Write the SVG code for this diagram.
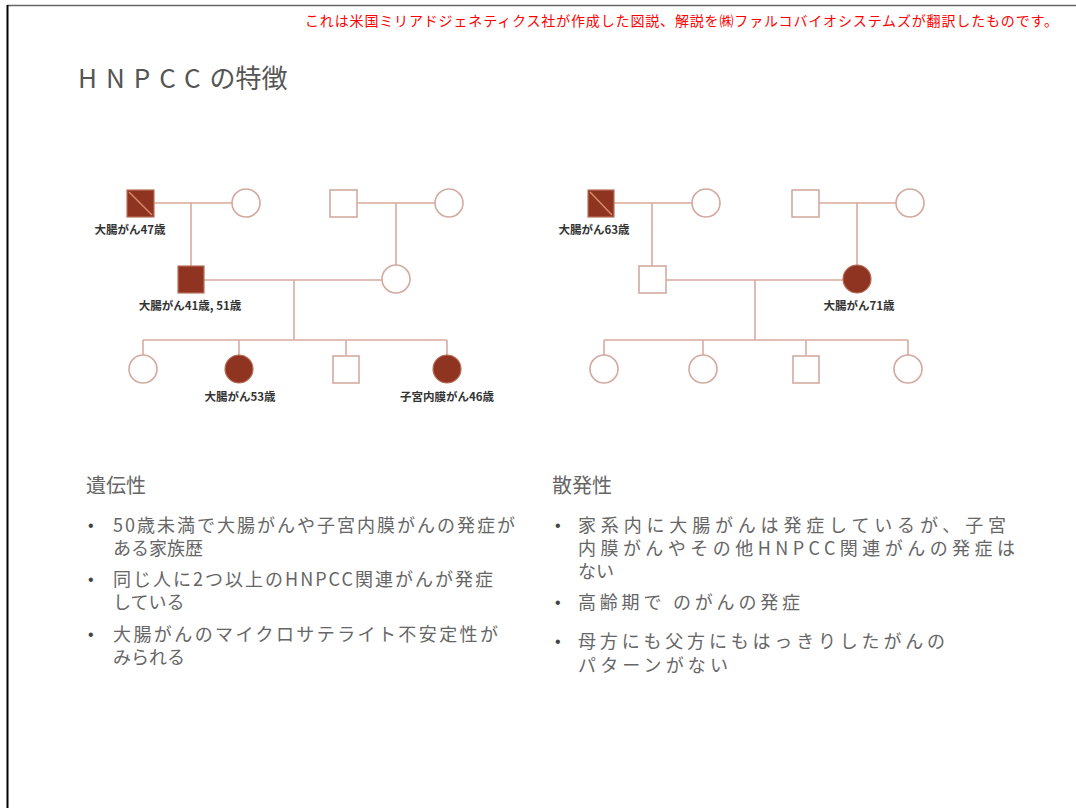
<svg xmlns="http://www.w3.org/2000/svg" width="1076" height="808" viewBox="0 0 1076 808">
<style>
.ln{stroke:#d9aa9c;stroke-width:1.6;fill:none}
.open{fill:#fff;stroke:#d2aaa0;stroke-width:1.6}
.fill{fill:#8e3420;stroke:#b8705a;stroke-width:1.2}
.slash{stroke:#d98a6c;stroke-width:1.5}
.lbl{font-family:"Noto Sans CJK JP","Liberation Sans",sans-serif;font-size:11.5px;fill:#333;font-weight:bold}
.body{font-family:"Noto Sans CJK JP","Liberation Sans",sans-serif;font-size:18px;fill:#666}
.head{font-family:"Noto Sans CJK JP","Liberation Sans",sans-serif;font-size:20px;fill:#666}
.bul{font-family:"Liberation Sans",sans-serif;font-size:16px;fill:#444}
</style>
<rect x="0" y="0" width="1076" height="808" fill="#fff"/>
<line x1="7" y1="5.5" x2="1076" y2="5.5" stroke="#666" stroke-width="1.5"/>
<line x1="7.5" y1="5" x2="7.5" y2="808" stroke="#000" stroke-width="2"/>
<text x="1058" y="26" text-anchor="end" font-family="Noto Sans CJK JP, Liberation Sans, sans-serif" font-size="14" fill="#ff0000" textLength="753">これは米国ミリアドジェネティクス社が作成した図説、解説を㈱ファルコバイオシステムズが翻訳したものです。</text>
<text x="78" y="88" font-family="Noto Sans CJK JP, Liberation Sans, sans-serif" font-size="26" fill="#555"><tspan letter-spacing="9">HNPCC</tspan><tspan>の特徴</tspan></text>

<g id="connectors">
<line class="ln" x1="154" y1="203" x2="232" y2="203"/>
<line class="ln" x1="357" y1="203" x2="435" y2="203"/>
<line class="ln" x1="191" y1="203" x2="191" y2="266"/>
<line class="ln" x1="396" y1="203" x2="396" y2="265"/>
<line class="ln" x1="204" y1="280" x2="382" y2="280"/>
<line class="ln" x1="294" y1="280" x2="294" y2="340"/>
<line class="ln" x1="143" y1="340" x2="447" y2="340"/>
<line class="ln" x1="143" y1="340" x2="143" y2="355"/>
<line class="ln" x1="239" y1="340" x2="239" y2="355"/>
<line class="ln" x1="346" y1="340" x2="346" y2="355"/>
<line class="ln" x1="447" y1="340" x2="447" y2="355"/>
<line class="ln" x1="614" y1="203" x2="692" y2="203"/>
<line class="ln" x1="819" y1="203" x2="896" y2="203"/>
<line class="ln" x1="652" y1="203" x2="652" y2="266"/>
<line class="ln" x1="857" y1="203" x2="857" y2="265"/>
<line class="ln" x1="666" y1="280" x2="843" y2="280"/>
<line class="ln" x1="755" y1="280" x2="755" y2="340"/>
<line class="ln" x1="604" y1="340" x2="908" y2="340"/>
<line class="ln" x1="604" y1="340" x2="604" y2="355"/>
<line class="ln" x1="703" y1="340" x2="703" y2="355"/>
<line class="ln" x1="806" y1="340" x2="806" y2="355"/>
<line class="ln" x1="908" y1="340" x2="908" y2="355"/>
</g>

<g id="L-gf">
<rect class="fill" x="127" y="190" width="27" height="27"/>
<line class="slash" x1="129" y1="192" x2="152" y2="215"/>
<text class="lbl" x="130" y="234" text-anchor="middle">大腸がん47歳</text>
</g>
<g id="L-gm"><circle class="open" cx="246" cy="203" r="14"/></g>
<g id="L-gf2"><rect class="open" x="330" y="190" width="27" height="27"/></g>
<g id="L-gm2"><circle class="open" cx="449" cy="203" r="14"/></g>
<g id="L-father">
<rect class="fill" x="178" y="266" width="26" height="27"/>
<text class="lbl" x="190" y="310" text-anchor="middle">大腸がん41歳, 51歳</text>
</g>
<g id="L-mother"><circle class="open" cx="396" cy="279" r="14"/></g>
<g id="L-c1"><circle class="open" cx="143" cy="369" r="14"/></g>
<g id="L-c2">
<circle class="fill" cx="239" cy="369" r="14"/>
<text class="lbl" x="240" y="401" text-anchor="middle">大腸がん53歳</text>
</g>
<g id="L-c3"><rect class="open" x="333" y="356" width="26" height="27"/></g>
<g id="L-c4">
<circle class="fill" cx="447" cy="369" r="14"/>
<text class="lbl" x="447" y="401" text-anchor="middle">子宮内膜がん46歳</text>
</g>

<g id="R-gf">
<rect class="fill" x="588" y="190" width="26" height="27"/>
<line class="slash" x1="590" y1="192" x2="612" y2="215"/>
<text class="lbl" x="594" y="234" text-anchor="middle">大腸がん63歳</text>
</g>
<g id="R-gm"><circle class="open" cx="706" cy="203" r="14"/></g>
<g id="R-gf2"><rect class="open" x="792" y="190" width="27" height="27"/></g>
<g id="R-gm2"><circle class="open" cx="910" cy="203" r="14"/></g>
<g id="R-father"><rect class="open" x="639" y="266" width="27" height="27"/></g>
<g id="R-mother">
<circle class="fill" cx="857" cy="279" r="14"/>
<text class="lbl" x="859" y="310" text-anchor="middle">大腸がん71歳</text>
</g>
<g id="R-c1"><circle class="open" cx="604" cy="369" r="14"/></g>
<g id="R-c2"><circle class="open" cx="703" cy="369" r="14"/></g>
<g id="R-c3"><rect class="open" x="793" y="356" width="26" height="27"/></g>
<g id="R-c4"><circle class="open" cx="908" cy="369" r="14"/></g>

<g id="hereditary">
<text class="head" x="86" y="493">遺伝性</text>
<text class="bul" x="88" y="531">•</text>
<text class="body" x="113" y="532"><tspan textLength="402">50歳未満で大腸がんや子宮内膜がんの発症が</tspan><tspan x="113" dy="23">ある家族歴</tspan></text>
<text class="bul" x="88" y="585">•</text>
<text class="body" x="113" y="586"><tspan textLength="380">同じ人に2つ以上のHNPCC関連がんが発症</tspan><tspan x="113" dy="23">している</tspan></text>
<text class="bul" x="88" y="640">•</text>
<text class="body" x="113" y="641"><tspan textLength="385">大腸がんのマイクロサテライト不安定性が</tspan><tspan x="113" dy="23">みられる</tspan></text>
</g>

<g id="sporadic">
<text class="head" x="552" y="493">散発性</text>
<text class="bul" x="555" y="531">•</text>
<text class="body" x="578" y="532"><tspan textLength="428">家系内に大腸がんは発症しているが、子宮</tspan><tspan x="578" dy="23" textLength="437">内膜がんやその他HNPCC関連がんの発症は</tspan><tspan x="578" dy="23">ない</tspan></text>
<text class="bul" x="555" y="608">•</text>
<text class="body" x="578" y="609" textLength="222">高齢期で のがんの発症</text>
<text class="bul" x="555" y="647">•</text>
<text class="body" x="578" y="648"><tspan textLength="367">母方にも父方にもはっきりしたがんの</tspan><tspan x="578" dy="24" textLength="150">パターンがない</tspan></text>
</g>
</svg>
